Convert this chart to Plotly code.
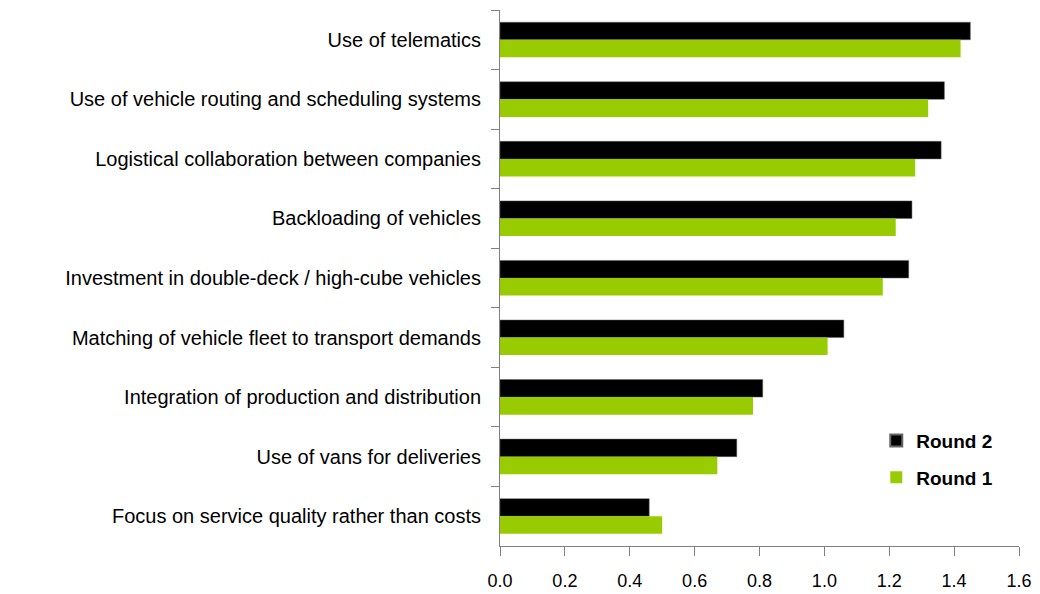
import plotly.graph_objects as go

# Measures listed top to bottom as they appear on the chart
categories = [
    "Use of telematics",
    "Use of vehicle routing and scheduling systems",
    "Logistical collaboration between companies",
    "Backloading of vehicles",
    "Investment in double-deck / high-cube vehicles",
    "Matching of vehicle fleet to transport demands",
    "Integration of production and distribution",
    "Use of vans for deliveries",
    "Focus on service quality rather than costs",
]
round2 = [1.45, 1.37, 1.36, 1.27, 1.26, 1.06, 0.81, 0.73, 0.46]
round1 = [1.42, 1.32, 1.28, 1.22, 1.18, 1.01, 0.78, 0.67, 0.50]
x_ticks = [0.0, 0.2, 0.4, 0.6, 0.8, 1.0, 1.2, 1.4, 1.6]

font_family = "Liberation Sans, Arial, sans-serif"

fig = go.Figure()
fig.add_trace(go.Bar(
    y=categories, x=round2, name="Round 2", orientation="h",
    legendgroup="r2",
    marker=dict(color="#000000", line=dict(color="#666666", width=0.5)),
))
fig.add_trace(go.Bar(
    y=categories, x=round1, name="Round 1", orientation="h",
    legendgroup="r1",
    marker=dict(color="#99CC00", line=dict(width=0)),
))

fig.update_layout(
    width=1040, height=594,
    margin=dict(l=500, r=21, t=10, b=48),
    paper_bgcolor="white", plot_bgcolor="white",
    barmode="group", bargap=0.41, bargroupgap=0,
    font=dict(family=font_family, size=20, color="#000000"),
    showlegend=True,
    legend=dict(
        x=0.725, y=0.232, xanchor="left", yanchor="top",
        font=dict(family=font_family, size=19, color="#000000", weight="bold"),
        bgcolor="rgba(0,0,0,0)", itemsizing="constant", tracegroupgap=9,
    ),
)
fig.update_xaxes(
    range=[0, 1.6], tickvals=x_ticks,
    ticktext=[f"{v:.1f}" for v in x_ticks],
    showgrid=False, zeroline=False, automargin=False,
    showline=True, linecolor="#808080", linewidth=1,
    ticks="outside", ticklen=9, tickcolor="#808080",
    tickfont=dict(size=18), ticklabelstandoff=9,
)
fig.update_yaxes(
    autorange="reversed", showgrid=False, zeroline=False, automargin=False,
    showline=True, linecolor="#808080", linewidth=1,
    ticks="outside", ticklen=8, tickcolor="#808080",
    tickson="boundaries", tickfont=dict(size=20),
    ticklabelstandoff=14,
)

fig.write_html("out.html")
